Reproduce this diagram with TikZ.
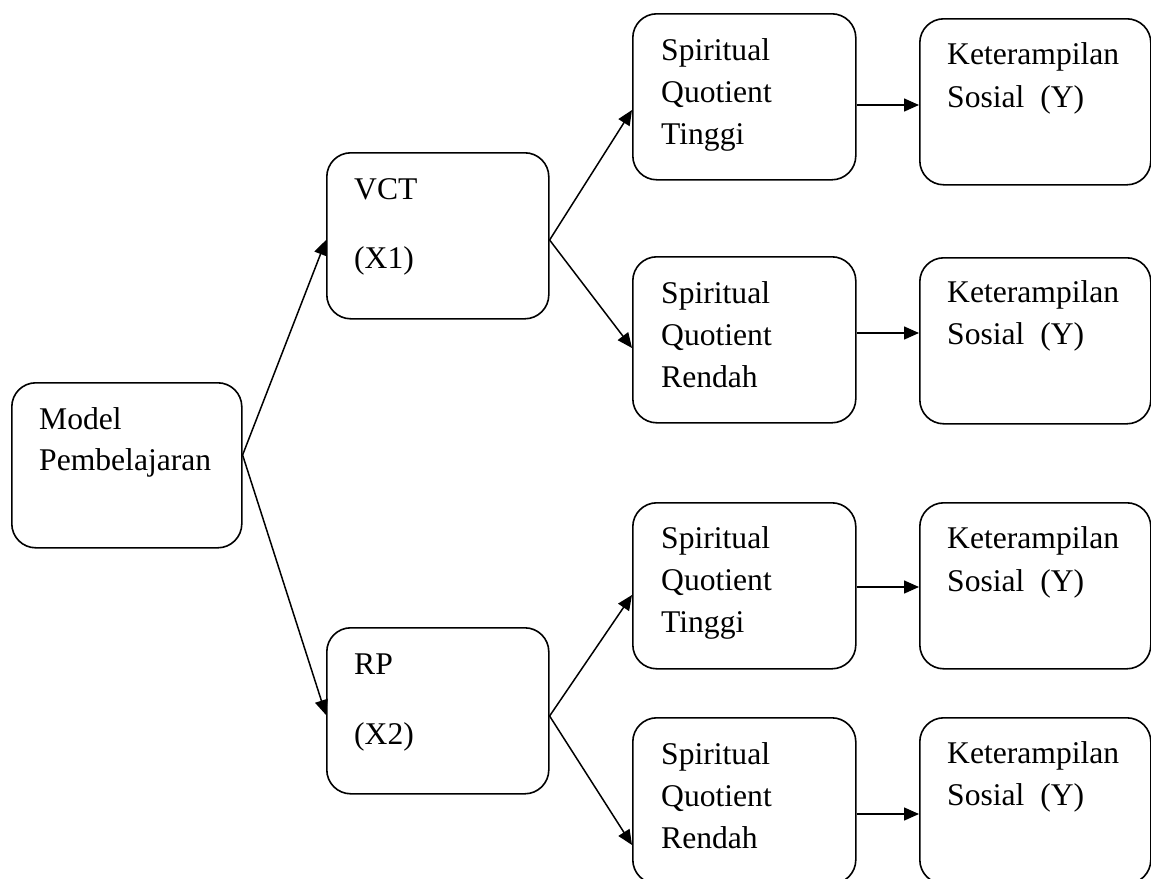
\documentclass[tikz,border=0pt]{standalone}
\usepackage{fontspec}
\setmainfont{Liberation Serif}
\usetikzlibrary{arrows.meta}
\tikzset{
  box/.style={draw=black, line width=1.6pt, rounded corners=24pt, rectangle, inner sep=0pt, anchor=north west},
  sqbox/.style={box, minimum width=223pt, minimum height=166pt},
  kbox/.style={box, minimum width=231pt, minimum height=166pt},
  midbox/.style={box, minimum width=222pt, minimum height=166pt},
  txt/.style={anchor=base west, inner sep=0pt, font=\fontsize{31.6pt}{38pt}\selectfont},
  arr/.style={line width=1.5pt, -{Triangle[length=15pt,width=13pt]}},
}
\begin{document}
\begin{tikzpicture}[x=1pt, y=-1pt]
\clip (0,0) rectangle (1151,878);
\fill[white] (0,0) rectangle (1151,878);

% boxes
\node[box, minimum width=230pt, minimum height=165pt] (model) at (11,382) {};
\node[midbox] (vct) at (326,152) {};
\node[midbox] (rp) at (326,627) {};
\node[sqbox] (sqt1) at (632,13) {};
\node[sqbox] (sqr1) at (632,256) {};
\node[sqbox] (sqt2) at (632,502) {};
\node[sqbox] (sqr2) at (632,717) {};
\node[kbox] (k1) at (919,18) {};
\node[kbox] (k2) at (919,257) {};
\node[kbox] (k3) at (919,502) {};
\node[kbox] (k4) at (919,717) {};

% texts
\node[txt] (tmodel1) at (39,429) {Model};
\node[txt] (tmodel2) at (39,470) {Pembelajaran};
\node[txt] (tvct1) at (354,199) {VCT};
\node[txt] (tvct2) at (354,268) {(X1)};
\node[txt] (trp1) at (354,674) {RP};
\node[txt] (trp2) at (354,744) {(X2)};

\node[txt] (ta1) at (661,60) {Spiritual};
\node[txt] (ta2) at (661,102) {Quotient};
\node[txt] (ta3) at (661,144) {Tinggi};
\node[txt] (tb1) at (661,303) {Spiritual};
\node[txt] (tb2) at (661,345) {Quotient};
\node[txt] (tb3) at (661,387) {Rendah};
\node[txt] (tc1) at (661,548) {Spiritual};
\node[txt] (tc2) at (661,590) {Quotient};
\node[txt] (tc3) at (661,632) {Tinggi};
\node[txt] (td1) at (661,764) {Spiritual};
\node[txt] (td2) at (661,806) {Quotient};
\node[txt] (td3) at (661,848) {Rendah};

\node[txt] (tk1a) at (947,64) {Keterampilan};
\node[txt] (tk1b) at (947,107) {Sosial\ \ (Y)};
\node[txt] (tk2a) at (947,302) {Keterampilan};
\node[txt] (tk2b) at (947,344) {Sosial\ \ (Y)};
\node[txt] (tk3a) at (947,548) {Keterampilan};
\node[txt] (tk3b) at (947,591) {Sosial\ \ (Y)};
\node[txt] (tk4a) at (947,763) {Keterampilan};
\node[txt] (tk4b) at (947,805) {Sosial\ \ (Y)};

% connectors
\draw[arr] ([yshift=-73pt]model.north east) -- ([yshift=-88pt]vct.north west);
\draw[arr] ([yshift=-73pt]model.north east) -- ([yshift=-88pt]rp.north west);
\draw[arr] ([yshift=-88pt]vct.north east) -- ([yshift=-97pt]sqt1.north west);
\draw[arr] ([yshift=-88pt]vct.north east) -- ([yshift=-92pt]sqr1.north west);
\draw[arr] ([yshift=-89pt]rp.north east) -- ([yshift=-93pt]sqt2.north west);
\draw[arr] ([yshift=-89pt]rp.north east) -- ([yshift=-128pt]sqr2.north west);
\draw[arr] ([yshift=-92pt]sqt1.north east) -- ([yshift=-87pt]k1.north west);
\draw[arr] ([yshift=-77pt]sqr1.north east) -- ([yshift=-76pt]k2.north west);
\draw[arr] ([yshift=-85pt]sqt2.north east) -- ([yshift=-85pt]k3.north west);
\draw[arr] ([yshift=-97pt]sqr2.north east) -- ([yshift=-97pt]k4.north west);
\end{tikzpicture}
\end{document}
